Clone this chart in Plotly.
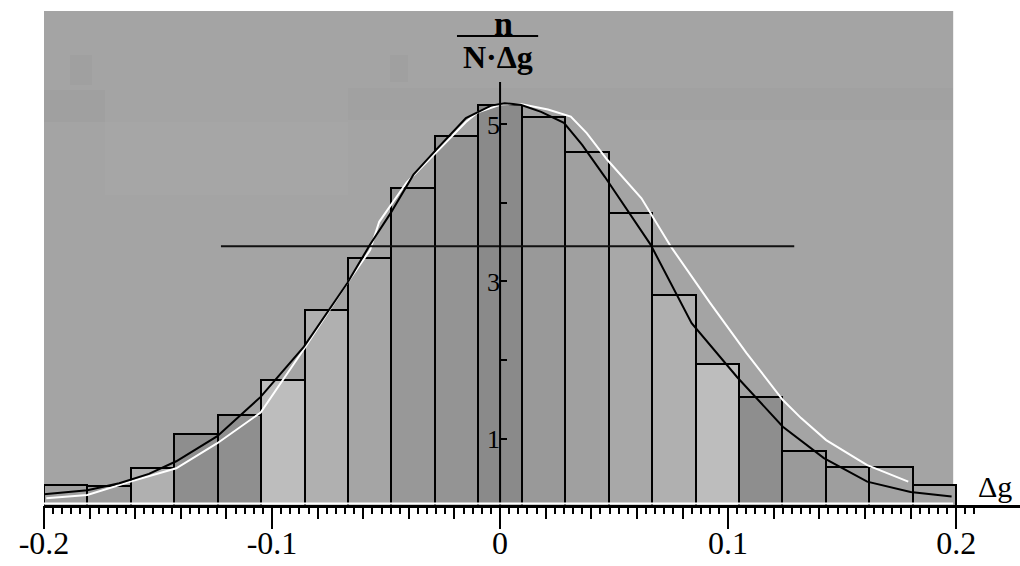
import numpy as np
import plotly.graph_objects as go

# ---------------- data ----------------
bin_range = (-0.2, 0.2)
n_bins = 21
hist_values = [0.41, 0.39, 0.62, 1.06, 1.30, 1.75, 2.64, 3.30, 4.19, 4.85, 5.25,
               5.10, 4.65, 3.87, 2.83, 1.95, 1.53, 0.84, 0.64, 0.64, 0.41]
bar_shades = ["#a0a0a0", "#9d9d9d", "#b0b0b0", "#8e8e8e", "#8f8f8f", "#bdbdbd",
              "#b0b0b0", "#a5a5a5", "#989898", "#949494", "#8a8a8a", "#999999",
              "#a0a0a0", "#a8a8a8", "#b0b0b0", "#bdbdbd", "#8e8e8e", "#9a9a9a",
              "#9e9e9e", "#a3a3a3", "#a3a3a3"]

black_x = [-0.200, -0.181, -0.167, -0.154, -0.142, -0.124, -0.105, -0.086, -0.067,
           -0.057, -0.048, -0.038, -0.028, -0.015, -0.004, 0.002, 0.009, 0.018,
           0.028, 0.036, 0.046, 0.066, 0.084, 0.104, 0.124, 0.142, 0.161, 0.180, 0.198]
black_y = [0.29, 0.34, 0.43, 0.55, 0.71, 1.03, 1.53, 2.17, 2.98, 3.47, 3.87, 4.36,
           4.68, 5.08, 5.24, 5.27, 5.25, 5.16, 5.02, 4.74, 4.33, 3.47, 2.47, 1.78,
           1.15, 0.75, 0.45, 0.32, 0.26]

white_x = [-0.199, -0.181, -0.161, -0.142, -0.124, -0.105, -0.086, -0.067, -0.057,
           -0.053, -0.041, -0.028, -0.015, -0.010, 0.000, 0.009, 0.021, 0.031, 0.038,
           0.047, 0.062, 0.075, 0.092, 0.108, 0.124, 0.132, 0.143, 0.157, 0.161, 0.179]
white_y = [0.24, 0.28, 0.46, 0.62, 0.94, 1.33, 2.14, 2.98, 3.40, 3.76, 4.26, 4.65,
           5.03, 5.15, 5.25, 5.26, 5.19, 5.10, 4.89, 4.55, 4.06, 3.44, 2.73, 2.09,
           1.49, 1.26, 0.98, 0.73, 0.66, 0.45]

level_y = 3.45
level_x = [-0.1224, 0.129]

x_tick_vals = [-0.2, -0.1, 0.0, 0.1, 0.2]
x_tick_text = ["-0.2", "-0.1", "0", "0.1", "0.2"]
y_tick_vals = [1, 2, 3, 4, 5]
y_tick_text = ["1", "", "3", "", "5"]

# ---------------- layout constants ----------------
W, H = 1020, 566
ML, MR, MT, MB = 44, 0, 11, 61
x_range = [-0.2, 0.228]
y_range = [0.153, 6.445]
serif = "Liberation Serif, Times New Roman, serif"

edges = np.linspace(bin_range[0], bin_range[1], n_bins + 1)
centers = (edges[:-1] + edges[1:]) / 2
bw = edges[1] - edges[0]

fig = go.Figure()

fig.add_trace(go.Bar(
    x=centers, y=hist_values, width=bw,
    marker=dict(color=bar_shades, line=dict(color="black", width=2)),
    hoverinfo="skip", showlegend=False,
))

fig.add_trace(go.Scatter(
    x=level_x, y=[level_y, level_y], mode="lines",
    line=dict(color="#111111", width=2), showlegend=False, xaxis="x2",
))

fig.add_trace(go.Scatter(
    x=black_x, y=black_y, mode="lines", line=dict(color="black", width=2),
    showlegend=False, xaxis="x3",
))
fig.add_trace(go.Scatter(
    x=white_x, y=white_y, mode="lines", line=dict(color="white", width=2),
    showlegend=False,
))

pw = W - ML - MR
ph = H - MT - MB
y_axis_pos = (0 - x_range[0]) / (x_range[1] - x_range[0])


def py(pix):
    """pixel row (from top of page) -> paper y"""
    return ((H - MB) - pix) / ph


def px(pix):
    """pixel column -> paper x"""
    return (pix - ML) / pw


# faint patches of the scanned background
patches = [
    (44, 105, 90, 122, "#a0a0a0"),
    (70, 92, 55, 85, "#a0a0a0"),
    (390, 408, 55, 82, "#a0a0a0"),
    (348, 953, 88, 120, "#a1a1a1"),
    (105, 348, 122, 195, "#a6a6a6"),
]

shapes = [
    # grey plotting surface
    dict(type="rect", xref="x", yref="paper", x0=-0.2, x1=0.1987, y0=py(503), y1=1,
         fillcolor="#a4a4a4", line=dict(width=0), layer="below"),
]
for x0, x1, y0, y1, c in patches:
    shapes.append(dict(type="rect", xref="paper", yref="paper", x0=px(x0), x1=px(x1),
                       y0=py(y1), y1=py(y0), fillcolor=c, line=dict(width=0),
                       layer="below"))
shapes += [
    # vertical axis line
    dict(type="line", xref="x", yref="y", x0=0, x1=0, y0=y_range[0], y1=5.54,
         line=dict(color="black", width=2), layer="above"),
    # white gap line above x axis
    dict(type="line", xref="x", yref="paper", x0=-0.2, x1=0.1987, y0=py(503.5), y1=py(503.5),
         line=dict(color="white", width=2), layer="above"),
    # fraction bar of the y title
    dict(type="line", xref="x", yref="paper", x0=-0.0189, x1=0.0167,
         y0=py(36), y1=py(36), line=dict(color="black", width=2), layer="above"),
]

annotations = [
    dict(text="<b>n</b>", xref="x", yref="paper", x=0.0013, y=py(23),
         showarrow=False, font=dict(family=serif, size=34, color="black"),
         xanchor="center", yanchor="middle"),
    dict(text="<b>N·Δg</b>", xref="x", yref="paper", x=-0.0008, y=py(57),
         showarrow=False, font=dict(family=serif, size=32, color="black"),
         xanchor="center", yanchor="middle"),
    dict(text="Δg", xref="x", yref="paper", x=0.217, y=py(486),
         showarrow=False, font=dict(family=serif, size=30, color="black"),
         xanchor="center", yanchor="middle"),
]

fig.update_layout(
    width=W, height=H,
    margin=dict(l=ML, r=MR, t=MT, b=MB, autoexpand=False),
    paper_bgcolor="white", plot_bgcolor="white",
    bargap=0, showlegend=False,
    shapes=shapes, annotations=annotations,
    xaxis=dict(
        range=x_range, showgrid=False, zeroline=False, automargin=False,
        showline=True, linecolor="black", linewidth=3,
        tickmode="array", tickvals=x_tick_vals, ticktext=x_tick_text,
        ticks="outside", ticklen=8, tickwidth=2, tickcolor="black",
        tickfont=dict(family=serif, size=32, color="black"),
        minor=dict(tickmode="array",
                   tickvals=[round(v, 3) for v in np.arange(-0.2, 0.2081, 0.004)],
                   ticks="outside", ticklen=6, tickwidth=1.5, tickcolor="black"),
    ),
    xaxis2=dict(
        range=x_range, overlaying="x", anchor="y", side="bottom", automargin=False,
        showgrid=False, zeroline=False, showline=False,
        tickmode="array", tickvals=[round(v, 2) for v in np.arange(-0.2, 0.2001, 0.02)],
        ticks="outside", ticklen=13, tickwidth=2, tickcolor="black",
        showticklabels=False,
    ),
    xaxis3=dict(
        range=x_range, overlaying="x", anchor="y", side="bottom", automargin=False,
        showgrid=False, zeroline=False, showline=False,
        tickmode="array", tickvals=x_tick_vals,
        ticks="outside", ticklen=23, tickwidth=2, tickcolor="black",
        showticklabels=False,
    ),
    yaxis=dict(
        range=y_range, showgrid=False, zeroline=False, showline=False, automargin=False,
        anchor="free", position=y_axis_pos, side="left",
        tickmode="array", tickvals=y_tick_vals, ticktext=y_tick_text,
        ticks="inside", ticklen=6, tickwidth=2, tickcolor="black",
        tickfont=dict(family=serif, size=26, color="black"),
    ),
)

fig.write_html("out.html")
